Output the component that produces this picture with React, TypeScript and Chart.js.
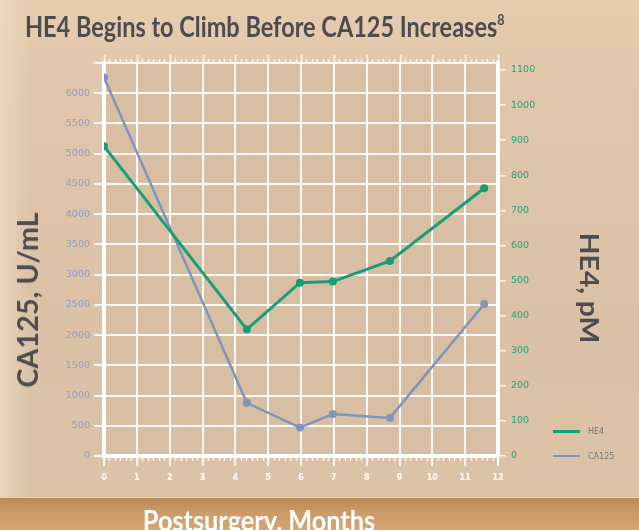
import React, { useEffect, useLayoutEffect, useRef } from "react";
import { Chart, registerables } from "chart.js";

Chart.register(...registerables);

const monthsHE4 = [0, 4.35, 5.97, 6.97, 8.71, 11.58];
const valuesHE4 = [883, 361, 494, 497, 556, 763];
const monthsCA125 = [0, 4.35, 5.97, 6.97, 8.71, 11.58];
const valuesCA125 = [6260, 880, 470, 695, 630, 2515];
const he4Ticks = [0, 100, 200, 300, 400, 500, 600, 700, 800, 900, 1000, 1100];

const titleText = "HE4 Begins to Climb Before CA125 Increases";
const titleSup = "8";
const leftAxisTitle = "CA125, U/mL";
const rightAxisTitle = "HE4, pM";
const xAxisTitle = "Postsurgery, Months";
const legendLabels = ["HE4", "CA125"];

const GREEN = "#169f74";
const BLUE = "#7e95bd";

const W = 639;
const H = 530;
const AREA_LEFT = 104;
const AREA_RIGHT = 498;
const AREA_TOP = 63;
const AREA_BOTTOM = 456;

const bgPlugin = {
  id: "bgPlugin",
  beforeDraw(chart: any) {
    const { ctx, chartArea } = chart;
    ctx.save();
    ctx.fillStyle = "#d8bea2";
    ctx.fillRect(chartArea.left, chartArea.top, chartArea.right - chartArea.left, chartArea.bottom - chartArea.top);
    ctx.restore();
  },
  afterDraw(chart: any) {
    const { ctx, chartArea } = chart;
    const xs = chart.scales.x;
    ctx.save();
    ctx.strokeStyle = "rgba(255,255,255,0.85)";
    ctx.lineWidth = 1.5;
    for (let i = 0; i <= 72; i++) {
      const v = i / 6;
      const px = Math.round(xs.getPixelForValue(v)) + 0.5;
      const len = i % 6 === 0 ? 8 : 4;
      ctx.beginPath();
      ctx.moveTo(px, chartArea.top);
      ctx.lineTo(px, chartArea.top - len);
      ctx.stroke();
      ctx.beginPath();
      ctx.moveTo(px, chartArea.bottom);
      ctx.lineTo(px, chartArea.bottom + 5);
      ctx.stroke();
    }
    ctx.restore();
  },
};

function ChartView() {
  const ref = useRef<HTMLCanvasElement | null>(null);
  useEffect(() => {
    if (!ref.current) return;
    const chart = new Chart(ref.current, {
      type: "line",
      data: {
        datasets: [
          {
            label: legendLabels[0],
            data: monthsHE4.map((m, i) => ({ x: m, y: valuesHE4[i] })),
            yAxisID: "yR",
            borderColor: GREEN,
            backgroundColor: GREEN,
            borderWidth: 3,
            pointRadius: 4,
            pointBorderWidth: 0,
            pointBackgroundColor: GREEN,
            tension: 0,
          },
          {
            label: legendLabels[1],
            data: monthsCA125.map((m, i) => ({ x: m, y: valuesCA125[i] })),
            yAxisID: "yL",
            borderColor: BLUE,
            backgroundColor: BLUE,
            borderWidth: 2.5,
            pointRadius: 4,
            pointBorderWidth: 0,
            pointBackgroundColor: BLUE,
            tension: 0,
          },
        ],
      },
      options: {
        responsive: false,
        animation: false,
        devicePixelRatio: 1,
        layout: { padding: { top: AREA_TOP, left: 0, right: 0, bottom: 0 } },
        plugins: {
          legend: { display: false },
          title: { display: false },
          tooltip: { enabled: false },
        },
        scales: {
          x: {
            type: "linear",
            min: 0,
            max: 12,
            ticks: {
              stepSize: 1,
              color: "#ffffff",
              font: { family: "DejaVu Sans", size: 8, weight: "bold" },
              padding: 7,
            },
            grid: {
              color: "rgba(255,255,255,0.9)",
              lineWidth: 2,
              tickLength: 10,
            },
            border: { display: true, color: "#ffffff", width: 4 },
            afterFit(s: any) {
              s.height = H - AREA_BOTTOM;
            },
          },
          yL: {
            type: "linear",
            position: "left",
            min: 0,
            max: 6500,
            ticks: {
              stepSize: 500,
              color: "#8c9ec2",
              font: { family: "DejaVu Sans", size: 9.5 },
              padding: 4,
              callback: (v: any) => (v === 6500 ? "" : String(v)),
            },
            grid: {
              color: "rgba(255,255,255,0.9)",
              lineWidth: 2,
              tickLength: 10,
            },
            border: { display: true, color: "#ffffff", width: 4 },
            afterFit(s: any) {
              s.width = AREA_LEFT;
            },
          },
          yR: {
            type: "linear",
            position: "right",
            min: 0,
            max: 1120,
            afterBuildTicks(s: any) {
              s.ticks = he4Ticks.map((v) => ({ value: v }));
            },
            ticks: {
              color: "#1fa47b",
              font: { family: "DejaVu Sans", size: 9.5 },
              padding: 5,
              callback: (v: any) => String(v),
            },
            grid: {
              drawOnChartArea: false,
              color: "rgba(255,255,255,0.9)",
              lineWidth: 1.5,
              tickLength: 8,
            },
            border: { display: true, color: "#ffffff", width: 4 },
            afterFit(s: any) {
              s.width = W - AREA_RIGHT;
            },
          },
        },
      },
      plugins: [bgPlugin],
    } as any);
    return () => chart.destroy();
  }, []);
  return <canvas ref={ref} width={W} height={H} style={{ position: "absolute", left: 0, top: 0, width: W, height: H }} />;
}

function FitText({ children, target, origin, style }: any) {
  const ref = useRef<HTMLSpanElement | null>(null);
  useLayoutEffect(() => {
    const el = ref.current;
    if (!el) return;
    el.style.transform = "none";
    const w = el.offsetWidth;
    if (w > 0) el.style.transform = `scaleX(${target / w})`;
  });
  return (
    <span ref={ref} style={{ display: "inline-block", whiteSpace: "nowrap", transformOrigin: origin || "center center", ...style }}>
      {children}
    </span>
  );
}

export default function App() {
  const font = "Lato, 'Open Sans', sans-serif";
  return (
    <div
      style={{
        position: "fixed",
        left: 0,
        top: 0,
        width: W,
        height: H,
        overflow: "hidden",
        background: "linear-gradient(180deg, #e7ccaf 0%, #e0c6aa 20%, #dbc2a6 60%, #dcc3a7 100%)",
        fontFamily: font,
      }}
    >
      <div
        style={{
          position: "absolute",
          left: 0,
          top: 0,
          width: 30,
          height: H,
          background: "linear-gradient(90deg, rgba(240,220,196,0.7) 0%, rgba(240,220,196,0) 100%)",
        }}
      />
      <div
        style={{
          position: "absolute",
          left: 0,
          top: 497,
          width: W,
          height: 33,
          background: "linear-gradient(180deg, #b98955 0%, #cc9c68 45%, #d6a773 100%)",
          borderTop: "1px solid #e4d0ba",
        }}
      />
      <ChartView />
      <div style={{ position: "absolute", left: 25, top: 12, lineHeight: "28px", fontSize: 28, fontWeight: 700, color: "#4c4c4e" }}>
        <FitText target={480} origin="left center">
          {titleText}
          <sup style={{ fontSize: 15, verticalAlign: "top", lineHeight: "18px", position: "relative", top: -2 }}>{titleSup}</sup>
        </FitText>
      </div>
      <div
        style={{
          position: "absolute",
          left: 27,
          top: 300,
          transform: "translate(-50%, -50%) rotate(-90deg)",
          fontSize: 28,
          lineHeight: "28px",
          fontWeight: 700,
          color: "#4d4d4f",
          whiteSpace: "nowrap",
        }}
      >
        <FitText target={175}>{leftAxisTitle}</FitText>
      </div>
      <div
        style={{
          position: "absolute",
          left: 589.5,
          top: 288,
          transform: "translate(-50%, -50%) rotate(90deg)",
          fontSize: 27,
          lineHeight: "27px",
          fontWeight: 700,
          color: "#4d4d4f",
          whiteSpace: "nowrap",
        }}
      >
        <FitText target={110}>{rightAxisTitle}</FitText>
      </div>
      <div
        style={{
          position: "absolute",
          left: 259,
          top: 505,
          transform: "translateX(-50%)",
          fontSize: 29,
          lineHeight: "29px",
          fontWeight: 700,
          color: "#ffffff",
          whiteSpace: "nowrap",
        }}
      >
        <FitText target={232}>{xAxisTitle}</FitText>
      </div>
      {legendLabels.map((lab, i) => (
        <div key={lab} style={{ position: "absolute", left: 553, top: 431 + i * 25 - 6, height: 12, display: "flex", alignItems: "center" }}>
          <div style={{ width: 27, height: i === 0 ? 3 : 2.5, background: i === 0 ? GREEN : BLUE }} />
          <div style={{ marginLeft: 8, fontSize: 8, color: "#7a7670", fontFamily: "'DejaVu Sans', sans-serif" }}>{lab}</div>
        </div>
      ))}
    </div>
  );
}
